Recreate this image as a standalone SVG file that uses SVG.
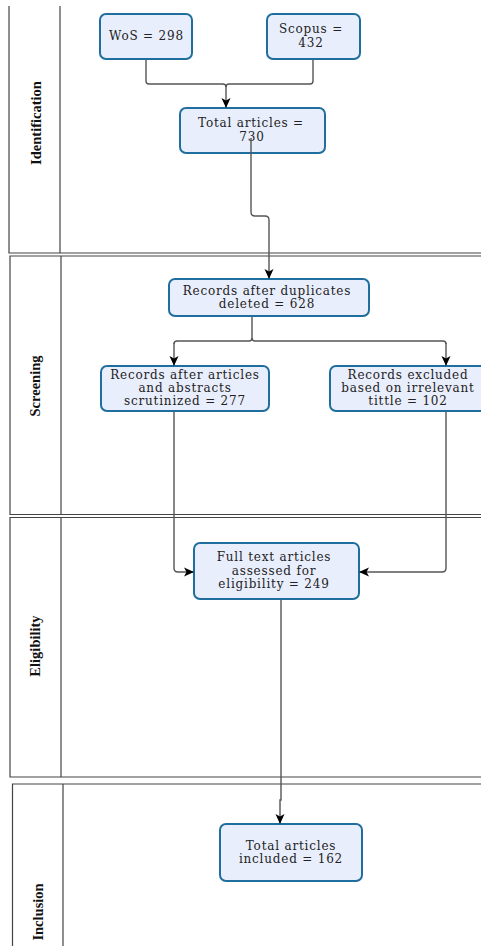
<svg xmlns="http://www.w3.org/2000/svg" width="481" height="946" viewBox="0 0 481 946">
<style>
.lane{stroke:#444;stroke-width:1.2;fill:none}
.box{fill:#E9EEFC;stroke:#1F6E9E;stroke-width:2}
.t{font-family:"DejaVu Serif","Liberation Serif",serif;font-size:12px;letter-spacing:0.8px;fill:#222;text-anchor:middle}
.lbl{font-family:"Liberation Serif",serif;font-size:14.5px;font-weight:bold;fill:#111;text-anchor:middle}
.c{stroke:#555;stroke-width:1.4;fill:none}
.a{marker-end:url(#arr)}
</style>
<defs>
<marker id="arr" markerUnits="userSpaceOnUse" markerWidth="10" markerHeight="10" viewBox="0 0 10 10" refX="9" refY="5" orient="auto">
<path d="M0,0.5 L10,5 L0,9.5 L2.5,5 Z" fill="#000"/>
</marker>
</defs>
<rect width="481" height="946" fill="#fff"/>
<g id="lanes">
<g id="lane-identification">
<path class="lane" d="M9,6 V253 H481 M60,6 V253"/>
<text class="lbl" transform="translate(41,123) rotate(-90)">Identification</text>
</g>
<g id="lane-screening">
<path class="lane" d="M481,256 H10 V514.5 H481 M61,256 V514.5"/>
<text class="lbl" transform="translate(40,386) rotate(-90)">Screening</text>
</g>
<g id="lane-eligibility">
<path class="lane" d="M481,517.5 H10 V777 H481 M61,517.5 V777"/>
<text class="lbl" transform="translate(40,646) rotate(-90)">Eligibility</text>
</g>
<g id="lane-inclusion">
<path class="lane" d="M481,784 H12.5 V946 M63,784 V946"/>
<text class="lbl" transform="translate(42.5,912) rotate(-90)">Inclusion</text>
</g>
</g>
<g id="nodes">
<g id="wos">
<rect class="box" x="100" y="14" width="92" height="45" rx="6"/>
<text class="t" x="146.5" y="40">WoS = 298</text>
</g>
<g id="scopus">
<rect class="box" x="267" y="14" width="93" height="45" rx="6"/>
<text class="t" x="311" y="33">Scopus =</text>
<text class="t" x="311" y="47">432</text>
</g>
<g id="total">
<rect class="box" x="180" y="108" width="145" height="45" rx="6"/>
<text class="t" x="251" y="127">Total articles =</text>
<text class="t" x="252" y="141">730</text>
</g>
<g id="dups">
<rect class="box" x="169" y="279" width="200" height="37" rx="6"/>
<text class="t" x="267" y="295">Records after duplicates</text>
<text class="t" x="267" y="307.5">deleted = 628</text>
</g>
<g id="scrutinized">
<rect class="box" x="101" y="366" width="168" height="45" rx="6"/>
<text class="t" x="185" y="379">Records after articles</text>
<text class="t" x="185" y="392">and abstracts</text>
<text class="t" x="185" y="405">scrutinized = 277</text>
</g>
<g id="excluded">
<rect class="box" x="330" y="366" width="160" height="45" rx="6"/>
<text class="t" x="408" y="379">Records excluded</text>
<text class="t" x="408" y="392">based on irrelevant</text>
<text class="t" x="408" y="405">tittle = 102</text>
</g>
<g id="fulltext">
<rect class="box" x="194" y="543" width="165" height="56" rx="6"/>
<text class="t" x="274" y="561">Full text articles</text>
<text class="t" x="274" y="575">assessed for</text>
<text class="t" x="274" y="588">eligibility = 249</text>
</g>
<g id="included">
<rect class="box" x="220" y="824" width="142" height="57" rx="6"/>
<text class="t" x="291" y="850">Total articles</text>
<text class="t" x="291" y="863">included = 162</text>
</g>
</g>
<g id="connectors">
<path class="c" d="M146,60 V81 q0,3 3,3 H223 q3,0 3,3"/>
<path class="c" d="M313,60 V81 q0,3 -3,3 H229 q-3,0 -3,3"/>
<path class="c a" d="M226,86 V107"/>
<path class="c a" d="M251,138 V212 q0,4 4,4 H265 q4,0 4,4 V278"/>
<path class="c" d="M252,317 V338 q0,3 -3,3 H177 q-3,0 -3,3"/>
<path class="c" d="M252,338 q0,3 3,3 H443 q3,0 3,3"/>
<path class="c a" d="M174,343 V365"/>
<path class="c a" d="M446,343 V365"/>
<path class="c a" d="M174,412 V568 q0,4 4,4 H193"/>
<path class="c a" d="M446,412 V568 q0,4 -4,4 H360"/>
<path class="c a" d="M281,600 V800 H280 V823"/>
</g>
</svg>
